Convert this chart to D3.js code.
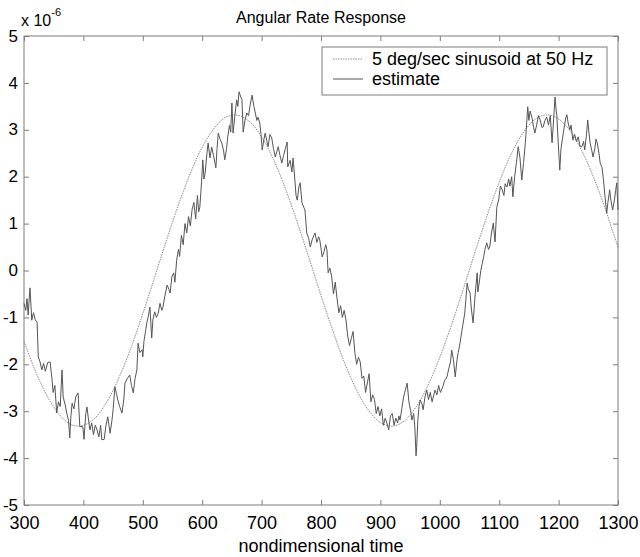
<!DOCTYPE html>
<html>
<head>
<meta charset="utf-8">
<script src="https://cdn.jsdelivr.net/npm/d3@7"></script>
<style>
  html, body { margin: 0; padding: 0; background: #fff; }
  svg { display: block; font-family: "Liberation Sans", Arial, sans-serif; }
</style>
</head>
<body>
<svg id="chart" width="640" height="557"></svg>
<script>
// ---- data (values in units of 1e-6) ----
const xTicks = [300, 400, 500, 600, 700, 800, 900, 1000, 1100, 1200, 1300];
const yTicks = [-5, -4, -3, -2, -1, 0, 1, 2, 3, 4, 5];
const seriesNames = ["5 deg/sec sinusoid at 50 Hz", "estimate"];

const sinusoidTime = [300,320,340,360,380,400,420,440,460,480,500,520,540,560,580,600,620,640,660,680,700,720,740,760,780,800,820,840,860,880,900,920,940,960,980,1000,1020,1040,1060,1080,1100,1120,1140,1160,1180,1200,1220,1240,1260,1280,1300];
const sinusoidValue = [-1.51,-2.17,-2.70,-3.08,-3.29,-3.30,-3.14,-2.79,-2.28,-1.65,-0.92,-0.14,0.65,1.40,2.07,2.63,3.03,3.27,3.31,3.17,2.85,2.37,1.75,1.03,0.26,-0.53,-1.29,-1.98,-2.55,-2.98,-3.24,-3.32,-3.21,-2.91,-2.45,-1.85,-1.15,-0.38,0.42,1.18,1.88,2.48,2.93,3.22,3.32,3.23,2.97,2.53,1.95,1.26,0.49];

const estimateTime = [300,303,305,307,310,312,313,316,319,322,324,327,330,333,336,340,344,347,349,352,355,358,361,364,366,369,372,375,377,379,381,384,387,391,394,399,401,404,406,408,411,414,417,420,423,426,429,431,435,438,441,445,448,450,453,456,458,461,465,468,470,474,478,481,484,487,490,492,495,499,500,502,504,507,509,512,515,517,520,523,526,529,532,534,537,541,544,546,549,552,554,557,560,562,565,568,571,574,577,580,583,586,589,592,594,596,599,601,603,605,608,610,613,616,619,623,625,627,630,633,636,638,641,643,646,648,650,652,655,658,660,662,665,667,669,672,675,678,681,684,687,689,692,694,697,699,701,704,706,709,711,714,717,720,723,726,728,731,734,737,740,743,744,748,751,753,756,758,760,763,765,768,771,773,776,779,782,785,788,790,793,796,798,802,805,808,810,812,815,818,821,824,827,830,833,836,839,842,845,848,851,854,857,860,863,866,869,872,875,878,881,884,887,890,893,896,899,902,905,908,911,914,917,920,923,926,929,931,933,936,939,942,945,948,951,953,956,958,960,961,963,965,967,970,972,975,978,981,984,987,989,992,995,998,1001,1005,1008,1012,1015,1018,1020,1023,1026,1029,1031,1034,1037,1039,1042,1044,1046,1048,1051,1053,1056,1059,1061,1063,1064,1067,1069,1071,1074,1076,1079,1082,1084,1087,1090,1093,1096,1099,1102,1105,1108,1110,1113,1116,1118,1121,1123,1126,1129,1132,1135,1138,1141,1143,1145,1148,1150,1152,1155,1158,1160,1163,1166,1169,1172,1174,1177,1180,1183,1186,1189,1191,1194,1196,1197,1199,1202,1204,1207,1210,1212,1214,1216,1219,1221,1224,1227,1230,1233,1236,1239,1242,1244,1247,1249,1251,1253,1256,1258,1261,1263,1265,1268,1270,1273,1275,1278,1281,1283,1286,1288,1291,1294,1296,1298,1300];
const estimateValue = [-0.70,-0.85,-0.60,-0.95,-0.37,-0.80,-1.06,-0.90,-1.05,-1.10,-1.84,-1.95,-2.12,-1.98,-2.15,-1.96,-1.95,-2.30,-2.60,-2.45,-3.04,-2.80,-2.90,-2.12,-2.70,-2.85,-3.04,-3.20,-3.57,-3.10,-2.83,-2.95,-2.70,-2.61,-3.33,-3.33,-3.60,-3.05,-2.91,-3.12,-3.40,-3.25,-3.50,-3.30,-3.40,-3.55,-3.30,-3.61,-3.60,-3.30,-3.12,-3.47,-3.20,-2.97,-2.48,-2.65,-2.76,-2.90,-3.04,-2.75,-2.40,-2.30,-2.23,-2.45,-2.61,-2.30,-2.12,-1.55,-1.75,-1.69,-1.84,-1.50,-1.34,-1.10,-0.99,-0.78,-1.44,-1.05,-0.88,-1.00,-0.91,-0.70,-0.85,-0.78,-0.55,-0.31,-0.40,-0.48,-0.13,-0.05,-0.25,0.22,0.45,0.30,0.75,0.55,1.00,0.80,1.15,0.95,1.30,1.45,1.10,1.60,1.25,1.35,1.90,2.36,1.95,2.08,2.50,2.72,2.40,2.63,2.45,2.19,2.60,2.93,2.80,2.72,2.55,2.36,2.60,2.85,3.10,2.95,3.57,2.93,3.30,3.64,3.50,3.81,3.70,3.64,2.95,3.20,3.36,3.30,3.55,3.74,3.50,3.38,3.20,3.27,3.14,2.90,2.57,2.80,2.93,2.75,2.64,2.90,2.83,2.60,2.42,2.55,2.64,2.45,2.29,2.45,2.60,2.74,2.21,2.35,2.10,2.40,1.93,1.60,1.50,1.80,1.87,1.44,1.35,1.29,0.80,0.70,0.50,0.65,0.75,0.80,0.60,0.72,0.65,0.29,0.40,0.55,0.44,-0.05,0.05,-0.14,-0.50,-0.25,-0.60,-0.90,-0.75,-1.00,-0.85,-1.05,-1.40,-1.60,-1.45,-1.30,-1.75,-2.00,-1.85,-1.95,-2.30,-2.25,-2.60,-2.40,-2.20,-2.80,-2.65,-2.75,-3.05,-2.90,-3.10,-2.95,-3.30,-3.15,-3.25,-3.40,-3.10,-3.05,-3.30,-3.15,-3.25,-3.10,-3.19,-2.95,-2.70,-2.55,-2.40,-2.80,-3.00,-3.19,-3.05,-3.34,-3.95,-3.78,-3.20,-2.90,-2.76,-2.85,-2.97,-2.70,-2.55,-2.75,-2.60,-2.80,-2.70,-2.55,-2.65,-2.45,-2.60,-2.48,-2.35,-2.27,-2.10,-1.95,-1.70,-1.90,-2.27,-1.90,-1.75,-1.55,-1.30,-1.15,-0.91,-0.60,-0.27,-0.40,-0.48,-0.80,-1.12,-0.60,-0.30,-0.05,-0.46,-0.20,0.00,0.12,0.30,0.45,0.59,0.45,0.50,0.80,1.01,0.61,1.35,1.50,1.80,1.72,1.60,1.85,1.78,1.95,1.80,2.00,1.57,2.00,2.30,2.64,2.40,1.93,2.30,2.57,2.90,3.49,3.20,3.40,3.27,3.05,2.93,3.10,3.30,3.21,3.05,3.06,3.20,3.27,3.10,3.30,2.72,3.10,3.70,3.40,3.32,2.80,2.14,2.60,2.85,3.10,3.25,3.32,3.15,3.00,3.10,2.78,2.90,2.75,2.85,2.65,2.64,2.75,2.57,2.90,3.21,2.95,2.72,2.55,2.42,2.60,2.80,2.72,2.50,2.29,2.20,2.00,1.60,1.22,1.45,1.72,1.50,1.29,1.50,1.70,1.87,1.29];

// ---- layout ----
const svg = d3.select("#chart");
const L = 24, R = 618, T = 36, B = 505;
const x = d3.scaleLinear().domain([300, 1300]).range([L, R]);
const y = d3.scaleLinear().domain([-5, 5]).range([B, T]);
const axisColor = "#7d7d7d";

svg.append("rect").attr("width", 640).attr("height", 557).attr("fill", "#fff");

// box
svg.append("rect").attr("x", L).attr("y", T).attr("width", R - L).attr("height", B - T)
  .attr("fill", "none").attr("stroke", axisColor).attr("stroke-width", 1);

function styleAxis(g, showLabels, size) {
  g.select(".domain").remove();
  g.selectAll(".tick line").attr("stroke", axisColor);
  g.selectAll(".tick text").attr("fill", "#000").style("font-size", size + "px")
    .style("font-family", '"Liberation Sans", Arial, sans-serif');
  if (!showLabels) g.selectAll(".tick text").remove();
}

const fmt = d => String(d);
svg.append("g").attr("transform", `translate(0,${B})`)
  .call(d3.axisBottom(x).tickValues(xTicks).tickFormat(fmt).tickSizeInner(-5).tickSizeOuter(0).tickPadding(11))
  .call(g => styleAxis(g, true, 18));
svg.append("g").attr("transform", `translate(0,${T})`)
  .call(d3.axisTop(x).tickValues(xTicks).tickSizeInner(-5).tickSizeOuter(0))
  .call(g => styleAxis(g, false, 18));
svg.append("g").attr("transform", `translate(${L},0)`)
  .call(d3.axisLeft(y).tickValues(yTicks).tickFormat(fmt).tickSizeInner(-5).tickSizeOuter(0).tickPadding(6))
  .call(g => styleAxis(g, true, 17))
  .call(g => g.selectAll(".tick text").attr("dy", "0.30em"));
svg.append("g").attr("transform", `translate(${R},0)`)
  .call(d3.axisRight(y).tickValues(yTicks).tickSizeInner(-5).tickSizeOuter(0))
  .call(g => styleAxis(g, false, 17));

// lines
const plot = svg.append("g");
const sinData = sinusoidTime.map((t, i) => [t, sinusoidValue[i]]);
const estData = estimateTime.map((t, i) => [t, estimateValue[i]]);

plot.append("path").datum(sinData)
  .attr("d", d3.line().x(d => x(d[0])).y(d => y(d[1])).curve(d3.curveCatmullRom))
  .attr("fill", "none").attr("stroke", "#8a8a8a").attr("stroke-width", 1)
  .attr("stroke-dasharray", "1.5,1");

plot.append("path").datum(estData)
  .attr("d", d3.line().x(d => x(d[0])).y(d => y(d[1])))
  .attr("fill", "none").attr("stroke", "#555").attr("stroke-width", 1);

// title and labels
svg.append("text").attr("x", (L + R) / 2).attr("y", 23).attr("text-anchor", "middle")
  .style("font-size", "16px").text("Angular Rate Response");
svg.append("text").attr("x", (L + R) / 2).attr("y", 552).attr("text-anchor", "middle")
  .style("font-size", "18px").text("nondimensional time");
const mult = svg.append("text").attr("x", 21).attr("y", 26).style("font-size", "16px");
mult.append("tspan").text("x 10");
mult.append("tspan").attr("dy", -10).style("font-size", "11px").text("-6");

// legend
const lg = svg.append("g");
lg.append("rect").attr("x", 322).attr("y", 47).attr("width", 285).attr("height", 48)
  .attr("fill", "#fff").attr("stroke", axisColor).attr("stroke-width", 1);
const rows = [
  { name: seriesNames[0], color: "#8a8a8a", dash: "1.5,1", cy: 59 },
  { name: seriesNames[1], color: "#555", dash: null, cy: 79 }
];
rows.forEach(r => {
  lg.append("line").attr("x1", 333).attr("x2", 363).attr("y1", r.cy).attr("y2", r.cy)
    .attr("stroke", r.color).attr("stroke-width", 1).attr("stroke-dasharray", r.dash);
  lg.append("text").attr("x", 372).attr("y", r.cy + 6).style("font-size", "18px").text(r.name);
});
</script>
</body>
</html>
